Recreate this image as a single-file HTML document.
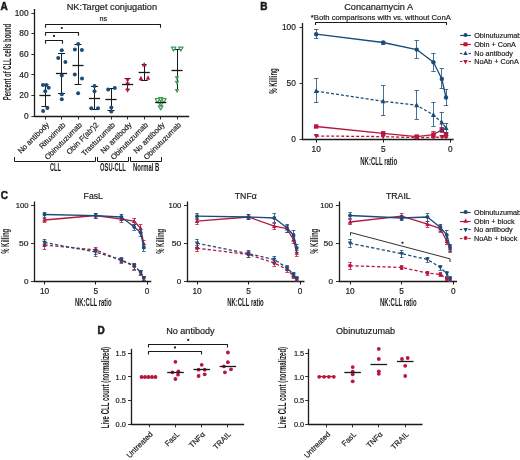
<!DOCTYPE html>
<html><head><meta charset="utf-8"><style>
html,body{margin:0;padding:0;background:#fff;width:520px;height:460px;overflow:hidden;}
svg{display:block;font-family:"Liberation Sans",sans-serif;filter:blur(0.3px);}
</style></head><body>
<svg width="520" height="460" viewBox="0 0 520 460">
<rect width="520" height="460" fill="#fff"/>
<text x="0.60" y="10.00" font-family="Liberation Sans" font-size="10" font-weight="bold" text-anchor="start" fill="#1a1a1a" stroke="#1a1a1a" stroke-width="0.5">A</text>
<text x="66.70" y="10.00" font-family="Liberation Sans" font-size="9.2" font-weight="normal" text-anchor="start" fill="#1a1a1a" stroke="#1a1a1a" stroke-width="0.18">NK:Target conjugation</text>
<line x1="34.50" y1="9.00" x2="34.50" y2="116.80" stroke="#1a1a1a" stroke-width="1.3"/>
<line x1="34.10" y1="116.50" x2="189.20" y2="116.50" stroke="#1a1a1a" stroke-width="1.3"/>
<line x1="31.40" y1="116.50" x2="34.60" y2="116.50" stroke="#1a1a1a" stroke-width="0.9"/>
<text x="28.60" y="119.00" font-family="Liberation Sans" font-size="8.3" font-weight="normal" text-anchor="end" fill="#1a1a1a" stroke="#1a1a1a" stroke-width="0.18">0</text>
<line x1="31.40" y1="95.50" x2="34.60" y2="95.50" stroke="#1a1a1a" stroke-width="0.9"/>
<text x="28.60" y="98.22" font-family="Liberation Sans" font-size="8.3" font-weight="normal" text-anchor="end" fill="#1a1a1a" stroke="#1a1a1a" stroke-width="0.18">20</text>
<line x1="31.40" y1="74.50" x2="34.60" y2="74.50" stroke="#1a1a1a" stroke-width="0.9"/>
<text x="28.60" y="77.64" font-family="Liberation Sans" font-size="8.3" font-weight="normal" text-anchor="end" fill="#1a1a1a" stroke="#1a1a1a" stroke-width="0.18">40</text>
<line x1="31.40" y1="54.50" x2="34.60" y2="54.50" stroke="#1a1a1a" stroke-width="0.9"/>
<text x="28.60" y="57.06" font-family="Liberation Sans" font-size="8.3" font-weight="normal" text-anchor="end" fill="#1a1a1a" stroke="#1a1a1a" stroke-width="0.18">60</text>
<line x1="31.40" y1="33.50" x2="34.60" y2="33.50" stroke="#1a1a1a" stroke-width="0.9"/>
<text x="28.60" y="36.48" font-family="Liberation Sans" font-size="8.3" font-weight="normal" text-anchor="end" fill="#1a1a1a" stroke="#1a1a1a" stroke-width="0.18">80</text>
<line x1="31.40" y1="13.50" x2="34.60" y2="13.50" stroke="#1a1a1a" stroke-width="0.9"/>
<text x="28.60" y="15.90" font-family="Liberation Sans" font-size="8.3" font-weight="normal" text-anchor="end" fill="#1a1a1a" stroke="#1a1a1a" stroke-width="0.18">100</text>
<text x="10.60" y="62.10" font-family="Liberation Sans" font-size="10.0" font-weight="bold" text-anchor="middle" fill="#1a1a1a" transform="rotate(-90 10.60 62.10)" textLength="76.3" lengthAdjust="spacingAndGlyphs">Percent of CLL cells bound</text>
<line x1="45.50" y1="116.30" x2="45.50" y2="119.50" stroke="#1a1a1a" stroke-width="0.9"/>
<line x1="61.50" y1="116.30" x2="61.50" y2="119.50" stroke="#1a1a1a" stroke-width="0.9"/>
<line x1="78.50" y1="116.30" x2="78.50" y2="119.50" stroke="#1a1a1a" stroke-width="0.9"/>
<line x1="94.50" y1="116.30" x2="94.50" y2="119.50" stroke="#1a1a1a" stroke-width="0.9"/>
<line x1="111.50" y1="116.30" x2="111.50" y2="119.50" stroke="#1a1a1a" stroke-width="0.9"/>
<line x1="127.50" y1="116.30" x2="127.50" y2="119.50" stroke="#1a1a1a" stroke-width="0.9"/>
<line x1="144.50" y1="116.30" x2="144.50" y2="119.50" stroke="#1a1a1a" stroke-width="0.9"/>
<line x1="160.50" y1="116.30" x2="160.50" y2="119.50" stroke="#1a1a1a" stroke-width="0.9"/>
<line x1="177.50" y1="116.30" x2="177.50" y2="119.50" stroke="#1a1a1a" stroke-width="0.9"/>
<text x="49.60" y="125.40" font-family="Liberation Sans" font-size="7.6" font-weight="normal" text-anchor="end" fill="#1a1a1a" stroke="#1a1a1a" stroke-width="0.18" transform="rotate(-45 49.60 125.40)">No antibody</text>
<text x="66.10" y="125.40" font-family="Liberation Sans" font-size="7.6" font-weight="normal" text-anchor="end" fill="#1a1a1a" stroke="#1a1a1a" stroke-width="0.18" transform="rotate(-45 66.10 125.40)">Rituximab</text>
<text x="82.60" y="125.40" font-family="Liberation Sans" font-size="7.6" font-weight="normal" text-anchor="end" fill="#1a1a1a" stroke="#1a1a1a" stroke-width="0.18" transform="rotate(-45 82.60 125.40)">Obinutuzumab</text>
<text x="99.10" y="125.40" font-family="Liberation Sans" font-size="7.6" font-weight="normal" text-anchor="end" fill="#1a1a1a" stroke="#1a1a1a" stroke-width="0.18" transform="rotate(-45 99.10 125.40)">Obin F(ab′)2</text>
<text x="115.60" y="125.40" font-family="Liberation Sans" font-size="7.6" font-weight="normal" text-anchor="end" fill="#1a1a1a" stroke="#1a1a1a" stroke-width="0.18" transform="rotate(-45 115.60 125.40)">Trastuzumab</text>
<text x="132.10" y="125.40" font-family="Liberation Sans" font-size="7.6" font-weight="normal" text-anchor="end" fill="#1a1a1a" stroke="#1a1a1a" stroke-width="0.18" transform="rotate(-45 132.10 125.40)">No antibody</text>
<text x="148.60" y="125.40" font-family="Liberation Sans" font-size="7.6" font-weight="normal" text-anchor="end" fill="#1a1a1a" stroke="#1a1a1a" stroke-width="0.18" transform="rotate(-45 148.60 125.40)">Obinutuzumab</text>
<text x="165.10" y="125.40" font-family="Liberation Sans" font-size="7.6" font-weight="normal" text-anchor="end" fill="#1a1a1a" stroke="#1a1a1a" stroke-width="0.18" transform="rotate(-45 165.10 125.40)">No antibody</text>
<text x="181.60" y="125.40" font-family="Liberation Sans" font-size="7.6" font-weight="normal" text-anchor="end" fill="#1a1a1a" stroke="#1a1a1a" stroke-width="0.18" transform="rotate(-45 181.60 125.40)">Obinutuzumab</text>
<polyline points="14.50,157.00 14.50,161.50 95.50,161.50 95.50,157.00" fill="none" stroke="#1a1a1a" stroke-width="1.0" stroke-linejoin="round"/>
<polyline points="97.50,157.00 97.50,161.50 128.50,161.50 128.50,157.00" fill="none" stroke="#1a1a1a" stroke-width="1.0" stroke-linejoin="round"/>
<polyline points="130.50,157.00 130.50,161.50 161.50,161.50 161.50,157.00" fill="none" stroke="#1a1a1a" stroke-width="1.0" stroke-linejoin="round"/>
<text x="55.40" y="170.50" font-family="Liberation Sans" font-size="10.0" font-weight="bold" text-anchor="middle" fill="#1a1a1a" textLength="10.8" lengthAdjust="spacingAndGlyphs">CLL</text>
<text x="112.90" y="170.50" font-family="Liberation Sans" font-size="10.0" font-weight="bold" text-anchor="middle" fill="#1a1a1a" textLength="25.6" lengthAdjust="spacingAndGlyphs">OSU-CLL</text>
<text x="146.20" y="170.50" font-family="Liberation Sans" font-size="10.0" font-weight="bold" text-anchor="middle" fill="#1a1a1a" textLength="26.3" lengthAdjust="spacingAndGlyphs">Normal B</text>
<polyline points="45.50,27.80 45.50,24.50 160.50,24.50 160.50,27.80" fill="none" stroke="#1a1a1a" stroke-width="1.1" stroke-linejoin="round"/>
<polyline points="45.50,35.80 45.50,32.50 78.50,32.50 78.50,35.80" fill="none" stroke="#1a1a1a" stroke-width="1.1" stroke-linejoin="round"/>
<polyline points="45.50,43.80 45.50,40.50 62.50,40.50 62.50,43.80" fill="none" stroke="#1a1a1a" stroke-width="1.1" stroke-linejoin="round"/>
<circle cx="54.00" cy="35.90" r="1.1" fill="#1a1a1a"/>
<circle cx="61.80" cy="28.00" r="1.1" fill="#1a1a1a"/>
<text x="103.20" y="21.20" font-family="Liberation Sans" font-size="7.2" font-weight="normal" text-anchor="middle" fill="#1a1a1a" stroke="#1a1a1a" stroke-width="0.18">ns</text>
<line x1="45.50" y1="84.00" x2="45.50" y2="106.30" stroke="#1a1a1a" stroke-width="1.0"/>
<line x1="41.50" y1="84.50" x2="48.50" y2="84.50" stroke="#1a1a1a" stroke-width="1.0"/>
<line x1="41.50" y1="106.50" x2="48.50" y2="106.50" stroke="#1a1a1a" stroke-width="1.0"/>
<circle cx="43.00" cy="85.00" r="2.0" fill="#1b4b78"/>
<circle cx="46.30" cy="85.00" r="2.0" fill="#1b4b78"/>
<circle cx="48.70" cy="87.80" r="2.0" fill="#1b4b78"/>
<circle cx="45.20" cy="91.30" r="2.0" fill="#1b4b78"/>
<circle cx="47.40" cy="108.00" r="2.0" fill="#1b4b78"/>
<circle cx="43.10" cy="111.00" r="2.0" fill="#1b4b78"/>
<line x1="39.40" y1="95.50" x2="50.60" y2="95.50" stroke="#1a1a1a" stroke-width="1.3"/>
<line x1="61.50" y1="53.50" x2="61.50" y2="93.70" stroke="#1a1a1a" stroke-width="1.0"/>
<line x1="58.00" y1="53.50" x2="65.00" y2="53.50" stroke="#1a1a1a" stroke-width="1.0"/>
<line x1="58.00" y1="93.50" x2="65.00" y2="93.50" stroke="#1a1a1a" stroke-width="1.0"/>
<circle cx="61.80" cy="50.20" r="2.0" fill="#1b4b78"/>
<circle cx="58.20" cy="58.00" r="2.0" fill="#1b4b78"/>
<circle cx="65.40" cy="61.90" r="2.0" fill="#1b4b78"/>
<circle cx="61.80" cy="75.40" r="2.0" fill="#1b4b78"/>
<circle cx="61.80" cy="94.20" r="2.0" fill="#1b4b78"/>
<circle cx="61.80" cy="99.20" r="2.0" fill="#1b4b78"/>
<line x1="55.90" y1="73.50" x2="67.10" y2="73.50" stroke="#1a1a1a" stroke-width="1.3"/>
<line x1="78.50" y1="44.40" x2="78.50" y2="84.50" stroke="#1a1a1a" stroke-width="1.0"/>
<line x1="74.50" y1="44.50" x2="81.50" y2="44.50" stroke="#1a1a1a" stroke-width="1.0"/>
<line x1="74.50" y1="84.50" x2="81.50" y2="84.50" stroke="#1a1a1a" stroke-width="1.0"/>
<circle cx="78.20" cy="44.10" r="2.0" fill="#1b4b78"/>
<circle cx="74.90" cy="49.60" r="2.0" fill="#1b4b78"/>
<circle cx="81.90" cy="49.90" r="2.0" fill="#1b4b78"/>
<circle cx="74.80" cy="74.40" r="2.0" fill="#1b4b78"/>
<circle cx="82.00" cy="78.50" r="2.0" fill="#1b4b78"/>
<circle cx="78.10" cy="93.30" r="2.0" fill="#1b4b78"/>
<line x1="72.40" y1="65.50" x2="83.60" y2="65.50" stroke="#1a1a1a" stroke-width="1.3"/>
<line x1="94.50" y1="86.00" x2="94.50" y2="109.30" stroke="#1a1a1a" stroke-width="1.0"/>
<line x1="91.00" y1="86.50" x2="98.00" y2="86.50" stroke="#1a1a1a" stroke-width="1.0"/>
<line x1="91.00" y1="109.50" x2="98.00" y2="109.50" stroke="#1a1a1a" stroke-width="1.0"/>
<circle cx="94.50" cy="86.10" r="2.0" fill="#1b4b78"/>
<circle cx="94.50" cy="91.30" r="2.0" fill="#1b4b78"/>
<circle cx="91.30" cy="108.30" r="2.0" fill="#1b4b78"/>
<circle cx="98.00" cy="108.30" r="2.0" fill="#1b4b78"/>
<line x1="88.90" y1="98.50" x2="100.10" y2="98.50" stroke="#1a1a1a" stroke-width="1.3"/>
<line x1="111.50" y1="88.00" x2="111.50" y2="110.00" stroke="#1a1a1a" stroke-width="1.0"/>
<line x1="107.50" y1="88.50" x2="114.50" y2="88.50" stroke="#1a1a1a" stroke-width="1.0"/>
<line x1="107.50" y1="110.50" x2="114.50" y2="110.50" stroke="#1a1a1a" stroke-width="1.0"/>
<circle cx="108.20" cy="89.40" r="2.0" fill="#1b4b78"/>
<circle cx="114.80" cy="88.00" r="2.0" fill="#1b4b78"/>
<circle cx="111.30" cy="107.60" r="2.0" fill="#1b4b78"/>
<circle cx="111.30" cy="111.60" r="2.0" fill="#1b4b78"/>
<line x1="105.40" y1="99.50" x2="116.60" y2="99.50" stroke="#1a1a1a" stroke-width="1.3"/>
<line x1="127.50" y1="78.60" x2="127.50" y2="89.20" stroke="#1a1a1a" stroke-width="1.0"/>
<line x1="124.60" y1="78.50" x2="130.60" y2="78.50" stroke="#1a1a1a" stroke-width="1.0"/>
<line x1="125.60" y1="89.50" x2="129.60" y2="89.50" stroke="#1a1a1a" stroke-width="1.0"/>
<polygon points="127.60,82.63 125.30,78.26 129.90,78.26" fill="#b8163f"/>
<polygon points="127.60,86.93 125.30,82.56 129.90,82.56" fill="#b8163f"/>
<polygon points="127.60,92.83 125.30,88.46 129.90,88.46" fill="#b8163f"/>
<line x1="122.00" y1="84.50" x2="133.20" y2="84.50" stroke="#1a1a1a" stroke-width="1.3"/>
<line x1="144.50" y1="64.60" x2="144.50" y2="80.20" stroke="#1a1a1a" stroke-width="1.0"/>
<line x1="141.70" y1="64.50" x2="146.70" y2="64.50" stroke="#1a1a1a" stroke-width="1.0"/>
<line x1="140.70" y1="80.50" x2="147.70" y2="80.50" stroke="#1a1a1a" stroke-width="1.0"/>
<polygon points="144.20,62.07 141.90,66.44 146.50,66.44" fill="#b8163f"/>
<polygon points="140.90,75.87 138.60,80.24 143.20,80.24" fill="#b8163f"/>
<polygon points="148.00,75.27 145.70,79.64 150.30,79.64" fill="#b8163f"/>
<line x1="138.60" y1="72.50" x2="149.80" y2="72.50" stroke="#1a1a1a" stroke-width="1.3"/>
<line x1="160.50" y1="100.50" x2="160.50" y2="104.50" stroke="#1a1a1a" stroke-width="1.0"/>
<polygon points="160.70,101.70 158.40,97.68 163.00,97.68" fill="#ffffff" fill-opacity="0.3" stroke="#3f9f58" stroke-width="1.2" stroke-linejoin="round"/>
<polygon points="157.60,102.70 155.30,98.68 159.90,98.68" fill="#ffffff" fill-opacity="0.3" stroke="#3f9f58" stroke-width="1.2" stroke-linejoin="round"/>
<polygon points="163.80,102.70 161.50,98.68 166.10,98.68" fill="#ffffff" fill-opacity="0.3" stroke="#3f9f58" stroke-width="1.2" stroke-linejoin="round"/>
<polygon points="160.70,106.50 158.40,102.48 163.00,102.48" fill="#ffffff" fill-opacity="0.3" stroke="#3f9f58" stroke-width="1.2" stroke-linejoin="round"/>
<polygon points="160.70,109.90 158.40,105.88 163.00,105.88" fill="#ffffff" fill-opacity="0.3" stroke="#3f9f58" stroke-width="1.2" stroke-linejoin="round"/>
<line x1="155.10" y1="102.50" x2="166.30" y2="102.50" stroke="#1a1a1a" stroke-width="1.3"/>
<line x1="177.50" y1="49.60" x2="177.50" y2="90.00" stroke="#1a1a1a" stroke-width="1.0"/>
<line x1="173.20" y1="49.50" x2="180.80" y2="49.50" stroke="#1a1a1a" stroke-width="1.0"/>
<polygon points="173.60,51.10 171.30,47.07 175.90,47.07" fill="#ffffff" fill-opacity="0.3" stroke="#3f9f58" stroke-width="1.2" stroke-linejoin="round"/>
<polygon points="180.80,51.10 178.50,47.07 183.10,47.07" fill="#ffffff" fill-opacity="0.3" stroke="#3f9f58" stroke-width="1.2" stroke-linejoin="round"/>
<polygon points="177.00,80.53 174.70,76.16 179.30,76.16" fill="#3f9f58"/>
<polygon points="177.00,85.13 174.70,80.76 179.30,80.76" fill="#3f9f58"/>
<polygon points="177.00,93.33 174.70,88.96 179.30,88.96" fill="#3f9f58"/>
<line x1="171.40" y1="70.50" x2="182.60" y2="70.50" stroke="#1a1a1a" stroke-width="1.3"/>
<text x="260.20" y="10.00" font-family="Liberation Sans" font-size="10" font-weight="bold" text-anchor="start" fill="#1a1a1a" stroke="#1a1a1a" stroke-width="0.5">B</text>
<text x="344.20" y="10.00" font-family="Liberation Sans" font-size="9.2" font-weight="normal" text-anchor="start" fill="#1a1a1a" stroke="#1a1a1a" stroke-width="0.18">Concanamycin A</text>
<text x="310.80" y="20.20" font-family="Liberation Sans" font-size="7.6" font-weight="normal" text-anchor="start" fill="#1a1a1a" stroke="#1a1a1a" stroke-width="0.18" textLength="140" lengthAdjust="spacingAndGlyphs">*Both comparisons with vs. without ConA</text>
<polyline points="315.50,25.10 315.50,22.50 446.50,22.50 446.50,25.10" fill="none" stroke="#1a1a1a" stroke-width="1.1" stroke-linejoin="round"/>
<line x1="302.50" y1="23.00" x2="302.50" y2="140.10" stroke="#1a1a1a" stroke-width="1.3"/>
<line x1="302.20" y1="139.50" x2="453.60" y2="139.50" stroke="#1a1a1a" stroke-width="1.3"/>
<line x1="299.50" y1="139.50" x2="302.70" y2="139.50" stroke="#1a1a1a" stroke-width="0.9"/>
<text x="295.80" y="142.30" font-family="Liberation Sans" font-size="8.3" font-weight="normal" text-anchor="end" fill="#1a1a1a" stroke="#1a1a1a" stroke-width="0.18">0</text>
<line x1="299.50" y1="83.50" x2="302.70" y2="83.50" stroke="#1a1a1a" stroke-width="0.9"/>
<text x="295.80" y="86.10" font-family="Liberation Sans" font-size="8.3" font-weight="normal" text-anchor="end" fill="#1a1a1a" stroke="#1a1a1a" stroke-width="0.18">50</text>
<line x1="299.50" y1="27.50" x2="302.70" y2="27.50" stroke="#1a1a1a" stroke-width="0.9"/>
<text x="295.80" y="29.90" font-family="Liberation Sans" font-size="8.3" font-weight="normal" text-anchor="end" fill="#1a1a1a" stroke="#1a1a1a" stroke-width="0.18">100</text>
<line x1="316.50" y1="139.60" x2="316.50" y2="142.60" stroke="#1a1a1a" stroke-width="1.0"/>
<text x="316.20" y="151.70" font-family="Liberation Sans" font-size="8.3" font-weight="normal" text-anchor="middle" fill="#1a1a1a" stroke="#1a1a1a" stroke-width="0.18">10</text>
<line x1="383.50" y1="139.60" x2="383.50" y2="142.60" stroke="#1a1a1a" stroke-width="1.0"/>
<text x="383.20" y="151.70" font-family="Liberation Sans" font-size="8.3" font-weight="normal" text-anchor="middle" fill="#1a1a1a" stroke="#1a1a1a" stroke-width="0.18">5</text>
<line x1="450.50" y1="139.60" x2="450.50" y2="142.60" stroke="#1a1a1a" stroke-width="1.0"/>
<text x="450.20" y="151.70" font-family="Liberation Sans" font-size="8.3" font-weight="normal" text-anchor="middle" fill="#1a1a1a" stroke="#1a1a1a" stroke-width="0.18">0</text>
<text x="378.70" y="164.70" font-family="Liberation Sans" font-size="10.0" font-weight="bold" text-anchor="middle" fill="#1a1a1a" textLength="36.8" lengthAdjust="spacingAndGlyphs">NK:CLL ratio</text>
<text x="277.30" y="81.00" font-family="Liberation Sans" font-size="10.0" font-weight="bold" text-anchor="middle" fill="#1a1a1a" transform="rotate(-90 277.30 81.00)" textLength="25.6" lengthAdjust="spacingAndGlyphs">% Killing</text>
<polyline points="316.20,136.00 383.20,136.60 416.70,137.60 433.45,137.40 441.82,137.00 446.01,137.00" fill="none" stroke="#b8163f" stroke-width="1.3" stroke-linejoin="round" stroke-dasharray="3,2"/>
<polygon points="316.20,138.78 313.67,133.98 318.73,133.98" fill="#b8163f"/>
<polygon points="383.20,139.38 380.67,134.58 385.73,134.58" fill="#b8163f"/>
<polygon points="416.70,140.38 414.17,135.58 419.23,135.58" fill="#b8163f"/>
<polygon points="433.45,140.18 430.92,135.38 435.98,135.38" fill="#b8163f"/>
<polygon points="441.82,139.78 439.30,134.98 444.35,134.98" fill="#b8163f"/>
<polygon points="446.01,139.78 443.48,134.98 448.54,134.98" fill="#b8163f"/>
<line x1="416.50" y1="135.00" x2="416.50" y2="138.50" stroke="#b8163f" stroke-width="0.8"/>
<line x1="414.50" y1="135.50" x2="418.90" y2="135.50" stroke="#b8163f" stroke-width="0.8"/>
<line x1="414.50" y1="138.50" x2="418.90" y2="138.50" stroke="#b8163f" stroke-width="0.8"/>
<line x1="433.50" y1="131.20" x2="433.50" y2="137.50" stroke="#b8163f" stroke-width="0.8"/>
<line x1="431.25" y1="131.50" x2="435.65" y2="131.50" stroke="#b8163f" stroke-width="0.8"/>
<line x1="431.25" y1="137.50" x2="435.65" y2="137.50" stroke="#b8163f" stroke-width="0.8"/>
<line x1="441.50" y1="127.00" x2="441.50" y2="132.00" stroke="#b8163f" stroke-width="0.8"/>
<line x1="439.62" y1="127.50" x2="444.02" y2="127.50" stroke="#b8163f" stroke-width="0.8"/>
<line x1="439.62" y1="132.50" x2="444.02" y2="132.50" stroke="#b8163f" stroke-width="0.8"/>
<line x1="446.50" y1="132.00" x2="446.50" y2="137.00" stroke="#b8163f" stroke-width="0.8"/>
<line x1="443.81" y1="132.50" x2="448.21" y2="132.50" stroke="#b8163f" stroke-width="0.8"/>
<line x1="443.81" y1="137.50" x2="448.21" y2="137.50" stroke="#b8163f" stroke-width="0.8"/>
<polyline points="316.20,126.50 383.20,133.30 416.70,136.60 433.45,134.60 441.82,129.80 446.01,134.40" fill="none" stroke="#b8163f" stroke-width="1.3" stroke-linejoin="round"/>
<rect x="314.00" y="124.30" width="4.40" height="4.40" fill="#b8163f"/>
<rect x="381.00" y="131.10" width="4.40" height="4.40" fill="#b8163f"/>
<rect x="414.50" y="134.40" width="4.40" height="4.40" fill="#b8163f"/>
<rect x="431.25" y="132.40" width="4.40" height="4.40" fill="#b8163f"/>
<rect x="439.62" y="127.60" width="4.40" height="4.40" fill="#b8163f"/>
<rect x="443.81" y="132.20" width="4.40" height="4.40" fill="#b8163f"/>
<line x1="316.50" y1="78.70" x2="316.50" y2="102.60" stroke="#1b4b78" stroke-width="0.8"/>
<line x1="314.00" y1="78.50" x2="318.40" y2="78.50" stroke="#1b4b78" stroke-width="0.8"/>
<line x1="314.00" y1="102.50" x2="318.40" y2="102.50" stroke="#1b4b78" stroke-width="0.8"/>
<line x1="383.50" y1="85.50" x2="383.50" y2="115.40" stroke="#1b4b78" stroke-width="0.8"/>
<line x1="381.00" y1="85.50" x2="385.40" y2="85.50" stroke="#1b4b78" stroke-width="0.8"/>
<line x1="381.00" y1="115.50" x2="385.40" y2="115.50" stroke="#1b4b78" stroke-width="0.8"/>
<line x1="416.50" y1="90.30" x2="416.50" y2="119.00" stroke="#1b4b78" stroke-width="0.8"/>
<line x1="414.50" y1="90.50" x2="418.90" y2="90.50" stroke="#1b4b78" stroke-width="0.8"/>
<line x1="414.50" y1="119.50" x2="418.90" y2="119.50" stroke="#1b4b78" stroke-width="0.8"/>
<line x1="433.50" y1="102.30" x2="433.50" y2="126.00" stroke="#1b4b78" stroke-width="0.8"/>
<line x1="431.25" y1="102.50" x2="435.65" y2="102.50" stroke="#1b4b78" stroke-width="0.8"/>
<line x1="431.25" y1="126.50" x2="435.65" y2="126.50" stroke="#1b4b78" stroke-width="0.8"/>
<line x1="441.50" y1="112.70" x2="441.50" y2="131.50" stroke="#1b4b78" stroke-width="0.8"/>
<line x1="439.62" y1="112.50" x2="444.02" y2="112.50" stroke="#1b4b78" stroke-width="0.8"/>
<line x1="439.62" y1="131.50" x2="444.02" y2="131.50" stroke="#1b4b78" stroke-width="0.8"/>
<line x1="446.50" y1="123.50" x2="446.50" y2="132.00" stroke="#1b4b78" stroke-width="0.8"/>
<line x1="443.81" y1="123.50" x2="448.21" y2="123.50" stroke="#1b4b78" stroke-width="0.8"/>
<line x1="443.81" y1="132.50" x2="448.21" y2="132.50" stroke="#1b4b78" stroke-width="0.8"/>
<polyline points="316.20,91.10 383.20,101.30 416.70,105.20 433.45,114.90 441.82,122.60 446.01,128.00" fill="none" stroke="#1b4b78" stroke-width="1.3" stroke-linejoin="round" stroke-dasharray="3,2"/>
<polygon points="316.20,88.32 313.67,93.12 318.73,93.12" fill="#1b4b78"/>
<polygon points="383.20,98.52 380.67,103.32 385.73,103.32" fill="#1b4b78"/>
<polygon points="416.70,102.42 414.17,107.22 419.23,107.22" fill="#1b4b78"/>
<polygon points="433.45,112.12 430.92,116.92 435.98,116.92" fill="#1b4b78"/>
<polygon points="441.82,119.82 439.30,124.62 444.35,124.62" fill="#1b4b78"/>
<polygon points="446.01,125.22 443.48,130.02 448.54,130.02" fill="#1b4b78"/>
<line x1="316.50" y1="29.80" x2="316.50" y2="38.00" stroke="#1b4b78" stroke-width="0.8"/>
<line x1="314.00" y1="29.50" x2="318.40" y2="29.50" stroke="#1b4b78" stroke-width="0.8"/>
<line x1="314.00" y1="38.50" x2="318.40" y2="38.50" stroke="#1b4b78" stroke-width="0.8"/>
<line x1="383.50" y1="41.00" x2="383.50" y2="44.00" stroke="#1b4b78" stroke-width="0.8"/>
<line x1="381.00" y1="41.50" x2="385.40" y2="41.50" stroke="#1b4b78" stroke-width="0.8"/>
<line x1="381.00" y1="44.50" x2="385.40" y2="44.50" stroke="#1b4b78" stroke-width="0.8"/>
<line x1="416.50" y1="40.80" x2="416.50" y2="58.20" stroke="#1b4b78" stroke-width="0.8"/>
<line x1="414.50" y1="40.50" x2="418.90" y2="40.50" stroke="#1b4b78" stroke-width="0.8"/>
<line x1="414.50" y1="58.50" x2="418.90" y2="58.50" stroke="#1b4b78" stroke-width="0.8"/>
<line x1="433.50" y1="53.40" x2="433.50" y2="71.10" stroke="#1b4b78" stroke-width="0.8"/>
<line x1="431.25" y1="53.50" x2="435.65" y2="53.50" stroke="#1b4b78" stroke-width="0.8"/>
<line x1="431.25" y1="71.50" x2="435.65" y2="71.50" stroke="#1b4b78" stroke-width="0.8"/>
<line x1="441.50" y1="68.80" x2="441.50" y2="88.60" stroke="#1b4b78" stroke-width="0.8"/>
<line x1="439.62" y1="68.50" x2="444.02" y2="68.50" stroke="#1b4b78" stroke-width="0.8"/>
<line x1="439.62" y1="88.50" x2="444.02" y2="88.50" stroke="#1b4b78" stroke-width="0.8"/>
<line x1="446.50" y1="89.30" x2="446.50" y2="105.40" stroke="#1b4b78" stroke-width="0.8"/>
<line x1="443.81" y1="89.50" x2="448.21" y2="89.50" stroke="#1b4b78" stroke-width="0.8"/>
<line x1="443.81" y1="105.50" x2="448.21" y2="105.50" stroke="#1b4b78" stroke-width="0.8"/>
<polyline points="316.20,34.20 383.20,42.50 416.70,49.60 433.45,62.30 441.82,79.00 446.01,97.50" fill="none" stroke="#1b4b78" stroke-width="1.3" stroke-linejoin="round"/>
<circle cx="316.20" cy="34.20" r="2.2" fill="#1b4b78"/>
<circle cx="383.20" cy="42.50" r="2.2" fill="#1b4b78"/>
<circle cx="416.70" cy="49.60" r="2.2" fill="#1b4b78"/>
<circle cx="433.45" cy="62.30" r="2.2" fill="#1b4b78"/>
<circle cx="441.82" cy="79.00" r="2.2" fill="#1b4b78"/>
<circle cx="446.01" cy="97.50" r="2.2" fill="#1b4b78"/>
<line x1="460.10" y1="35.50" x2="470.90" y2="35.50" stroke="#1b4b78" stroke-width="1.2"/>
<circle cx="465.50" cy="35.10" r="2.0" fill="#1b4b78"/>
<text x="474.20" y="37.70" font-family="Liberation Sans" font-size="7.25" font-weight="normal" text-anchor="start" fill="#1a1a1a" stroke="#1a1a1a" stroke-width="0.18">Obinutuzumab</text>
<line x1="460.10" y1="44.50" x2="470.90" y2="44.50" stroke="#b8163f" stroke-width="1.2"/>
<rect x="463.50" y="42.30" width="4.00" height="4.00" fill="#b8163f"/>
<text x="474.20" y="46.90" font-family="Liberation Sans" font-size="7.25" font-weight="normal" text-anchor="start" fill="#1a1a1a" stroke="#1a1a1a" stroke-width="0.18">Obin + ConA</text>
<line x1="460.10" y1="53.50" x2="462.40" y2="53.50" stroke="#1b4b78" stroke-width="1.2"/>
<line x1="468.60" y1="53.50" x2="470.90" y2="53.50" stroke="#1b4b78" stroke-width="1.2"/>
<polygon points="465.50,50.67 463.20,55.04 467.80,55.04" fill="#1b4b78"/>
<text x="474.20" y="55.80" font-family="Liberation Sans" font-size="7.25" font-weight="normal" text-anchor="start" fill="#1a1a1a" stroke="#1a1a1a" stroke-width="0.18">No antibody</text>
<line x1="460.10" y1="61.50" x2="462.40" y2="61.50" stroke="#b8163f" stroke-width="1.2"/>
<line x1="468.60" y1="61.50" x2="470.90" y2="61.50" stroke="#b8163f" stroke-width="1.2"/>
<polygon points="465.50,64.33 463.20,59.96 467.80,59.96" fill="#b8163f"/>
<text x="474.20" y="64.40" font-family="Liberation Sans" font-size="7.25" font-weight="normal" text-anchor="start" fill="#1a1a1a" stroke="#1a1a1a" stroke-width="0.18">NoAb + ConA</text>
<text x="0.80" y="198.80" font-family="Liberation Sans" font-size="10" font-weight="bold" text-anchor="start" fill="#1a1a1a" stroke="#1a1a1a" stroke-width="0.5">C</text>
<line x1="34.50" y1="201.50" x2="34.50" y2="282.00" stroke="#1a1a1a" stroke-width="1.3"/>
<line x1="33.70" y1="281.50" x2="151.30" y2="281.50" stroke="#1a1a1a" stroke-width="1.3"/>
<line x1="31.00" y1="281.50" x2="34.20" y2="281.50" stroke="#1a1a1a" stroke-width="0.9"/>
<text x="28.50" y="284.00" font-family="Liberation Sans" font-size="7.2" font-weight="normal" text-anchor="end" fill="#1a1a1a" stroke="#1a1a1a" stroke-width="0.18" textLength="4.5" lengthAdjust="spacingAndGlyphs">0</text>
<line x1="31.00" y1="243.50" x2="34.20" y2="243.50" stroke="#1a1a1a" stroke-width="0.9"/>
<text x="28.50" y="245.90" font-family="Liberation Sans" font-size="7.2" font-weight="normal" text-anchor="end" fill="#1a1a1a" stroke="#1a1a1a" stroke-width="0.18" textLength="9.5" lengthAdjust="spacingAndGlyphs">50</text>
<line x1="31.00" y1="205.50" x2="34.20" y2="205.50" stroke="#1a1a1a" stroke-width="0.9"/>
<text x="28.50" y="207.80" font-family="Liberation Sans" font-size="7.2" font-weight="normal" text-anchor="end" fill="#1a1a1a" stroke="#1a1a1a" stroke-width="0.18" textLength="12.8" lengthAdjust="spacingAndGlyphs">100</text>
<line x1="44.50" y1="281.50" x2="44.50" y2="284.50" stroke="#1a1a1a" stroke-width="1.0"/>
<text x="44.50" y="293.50" font-family="Liberation Sans" font-size="8.3" font-weight="normal" text-anchor="middle" fill="#1a1a1a" stroke="#1a1a1a" stroke-width="0.18">10</text>
<line x1="95.50" y1="281.50" x2="95.50" y2="284.50" stroke="#1a1a1a" stroke-width="1.0"/>
<text x="95.75" y="293.50" font-family="Liberation Sans" font-size="8.3" font-weight="normal" text-anchor="middle" fill="#1a1a1a" stroke="#1a1a1a" stroke-width="0.18">5</text>
<line x1="147.50" y1="281.50" x2="147.50" y2="284.50" stroke="#1a1a1a" stroke-width="1.0"/>
<text x="147.00" y="293.50" font-family="Liberation Sans" font-size="8.3" font-weight="normal" text-anchor="middle" fill="#1a1a1a" stroke="#1a1a1a" stroke-width="0.18">0</text>
<text x="83.60" y="198.80" font-family="Liberation Sans" font-size="8.7" font-weight="normal" text-anchor="start" fill="#1a1a1a" stroke="#1a1a1a" stroke-width="0.18">FasL</text>
<text x="93.30" y="305.80" font-family="Liberation Sans" font-size="10.0" font-weight="bold" text-anchor="middle" fill="#1a1a1a" textLength="36.5" lengthAdjust="spacingAndGlyphs">NK:CLL ratio</text>
<text x="8.70" y="241.30" font-family="Liberation Sans" font-size="10.0" font-weight="bold" text-anchor="middle" fill="#1a1a1a" transform="rotate(-90 8.70 241.30)" textLength="25" lengthAdjust="spacingAndGlyphs">% Killing</text>
<line x1="187.50" y1="201.50" x2="187.50" y2="282.00" stroke="#1a1a1a" stroke-width="1.3"/>
<line x1="186.70" y1="281.50" x2="304.50" y2="281.50" stroke="#1a1a1a" stroke-width="1.3"/>
<line x1="184.00" y1="281.50" x2="187.20" y2="281.50" stroke="#1a1a1a" stroke-width="0.9"/>
<text x="181.20" y="284.00" font-family="Liberation Sans" font-size="7.2" font-weight="normal" text-anchor="end" fill="#1a1a1a" stroke="#1a1a1a" stroke-width="0.18" textLength="4.5" lengthAdjust="spacingAndGlyphs">0</text>
<line x1="184.00" y1="243.50" x2="187.20" y2="243.50" stroke="#1a1a1a" stroke-width="0.9"/>
<text x="181.20" y="245.90" font-family="Liberation Sans" font-size="7.2" font-weight="normal" text-anchor="end" fill="#1a1a1a" stroke="#1a1a1a" stroke-width="0.18" textLength="9.5" lengthAdjust="spacingAndGlyphs">50</text>
<line x1="184.00" y1="205.50" x2="187.20" y2="205.50" stroke="#1a1a1a" stroke-width="0.9"/>
<text x="181.20" y="207.80" font-family="Liberation Sans" font-size="7.2" font-weight="normal" text-anchor="end" fill="#1a1a1a" stroke="#1a1a1a" stroke-width="0.18" textLength="12.8" lengthAdjust="spacingAndGlyphs">100</text>
<line x1="197.50" y1="281.50" x2="197.50" y2="284.50" stroke="#1a1a1a" stroke-width="1.0"/>
<text x="197.00" y="293.50" font-family="Liberation Sans" font-size="8.3" font-weight="normal" text-anchor="middle" fill="#1a1a1a" stroke="#1a1a1a" stroke-width="0.18">10</text>
<line x1="248.50" y1="281.50" x2="248.50" y2="284.50" stroke="#1a1a1a" stroke-width="1.0"/>
<text x="248.50" y="293.50" font-family="Liberation Sans" font-size="8.3" font-weight="normal" text-anchor="middle" fill="#1a1a1a" stroke="#1a1a1a" stroke-width="0.18">5</text>
<line x1="300.50" y1="281.50" x2="300.50" y2="284.50" stroke="#1a1a1a" stroke-width="1.0"/>
<text x="300.00" y="293.50" font-family="Liberation Sans" font-size="8.3" font-weight="normal" text-anchor="middle" fill="#1a1a1a" stroke="#1a1a1a" stroke-width="0.18">0</text>
<text x="234.80" y="198.80" font-family="Liberation Sans" font-size="8.7" font-weight="normal" text-anchor="start" fill="#1a1a1a" stroke="#1a1a1a" stroke-width="0.18">TNFα</text>
<text x="245.50" y="305.80" font-family="Liberation Sans" font-size="10.0" font-weight="bold" text-anchor="middle" fill="#1a1a1a" textLength="36.5" lengthAdjust="spacingAndGlyphs">NK:CLL ratio</text>
<text x="163.60" y="241.30" font-family="Liberation Sans" font-size="10.0" font-weight="bold" text-anchor="middle" fill="#1a1a1a" transform="rotate(-90 163.60 241.30)" textLength="25" lengthAdjust="spacingAndGlyphs">% Killing</text>
<line x1="339.50" y1="201.50" x2="339.50" y2="282.00" stroke="#1a1a1a" stroke-width="1.3"/>
<line x1="338.70" y1="281.50" x2="457.00" y2="281.50" stroke="#1a1a1a" stroke-width="1.3"/>
<line x1="336.00" y1="281.50" x2="339.20" y2="281.50" stroke="#1a1a1a" stroke-width="0.9"/>
<text x="333.00" y="284.00" font-family="Liberation Sans" font-size="7.2" font-weight="normal" text-anchor="end" fill="#1a1a1a" stroke="#1a1a1a" stroke-width="0.18" textLength="4.5" lengthAdjust="spacingAndGlyphs">0</text>
<line x1="336.00" y1="243.50" x2="339.20" y2="243.50" stroke="#1a1a1a" stroke-width="0.9"/>
<text x="333.00" y="245.90" font-family="Liberation Sans" font-size="7.2" font-weight="normal" text-anchor="end" fill="#1a1a1a" stroke="#1a1a1a" stroke-width="0.18" textLength="9.5" lengthAdjust="spacingAndGlyphs">50</text>
<line x1="336.00" y1="205.50" x2="339.20" y2="205.50" stroke="#1a1a1a" stroke-width="0.9"/>
<text x="333.00" y="207.80" font-family="Liberation Sans" font-size="7.2" font-weight="normal" text-anchor="end" fill="#1a1a1a" stroke="#1a1a1a" stroke-width="0.18" textLength="12.8" lengthAdjust="spacingAndGlyphs">100</text>
<line x1="350.50" y1="281.50" x2="350.50" y2="284.50" stroke="#1a1a1a" stroke-width="1.0"/>
<text x="350.00" y="293.50" font-family="Liberation Sans" font-size="8.3" font-weight="normal" text-anchor="middle" fill="#1a1a1a" stroke="#1a1a1a" stroke-width="0.18">10</text>
<line x1="401.50" y1="281.50" x2="401.50" y2="284.50" stroke="#1a1a1a" stroke-width="1.0"/>
<text x="401.65" y="293.50" font-family="Liberation Sans" font-size="8.3" font-weight="normal" text-anchor="middle" fill="#1a1a1a" stroke="#1a1a1a" stroke-width="0.18">5</text>
<line x1="453.50" y1="281.50" x2="453.50" y2="284.50" stroke="#1a1a1a" stroke-width="1.0"/>
<text x="453.30" y="293.50" font-family="Liberation Sans" font-size="8.3" font-weight="normal" text-anchor="middle" fill="#1a1a1a" stroke="#1a1a1a" stroke-width="0.18">0</text>
<text x="386.00" y="198.80" font-family="Liberation Sans" font-size="8.7" font-weight="normal" text-anchor="start" fill="#1a1a1a" stroke="#1a1a1a" stroke-width="0.18">TRAIL</text>
<text x="398.30" y="305.80" font-family="Liberation Sans" font-size="10.0" font-weight="bold" text-anchor="middle" fill="#1a1a1a" textLength="36.5" lengthAdjust="spacingAndGlyphs">NK:CLL ratio</text>
<text x="317.80" y="241.30" font-family="Liberation Sans" font-size="10.0" font-weight="bold" text-anchor="middle" fill="#1a1a1a" transform="rotate(-90 317.80 241.30)" textLength="25" lengthAdjust="spacingAndGlyphs">% Killing</text>
<line x1="44.50" y1="241.00" x2="44.50" y2="249.00" stroke="#b8163f" stroke-width="0.8"/>
<line x1="42.70" y1="241.50" x2="46.30" y2="241.50" stroke="#b8163f" stroke-width="0.8"/>
<line x1="42.70" y1="249.50" x2="46.30" y2="249.50" stroke="#b8163f" stroke-width="0.8"/>
<line x1="95.50" y1="247.00" x2="95.50" y2="254.00" stroke="#b8163f" stroke-width="0.8"/>
<line x1="93.95" y1="247.50" x2="97.55" y2="247.50" stroke="#b8163f" stroke-width="0.8"/>
<line x1="93.95" y1="254.50" x2="97.55" y2="254.50" stroke="#b8163f" stroke-width="0.8"/>
<line x1="121.50" y1="258.00" x2="121.50" y2="263.00" stroke="#b8163f" stroke-width="0.8"/>
<line x1="119.58" y1="258.50" x2="123.17" y2="258.50" stroke="#b8163f" stroke-width="0.8"/>
<line x1="119.58" y1="263.50" x2="123.17" y2="263.50" stroke="#b8163f" stroke-width="0.8"/>
<line x1="134.50" y1="263.00" x2="134.50" y2="270.00" stroke="#b8163f" stroke-width="0.8"/>
<line x1="132.39" y1="263.50" x2="135.99" y2="263.50" stroke="#b8163f" stroke-width="0.8"/>
<line x1="132.39" y1="270.50" x2="135.99" y2="270.50" stroke="#b8163f" stroke-width="0.8"/>
<line x1="140.50" y1="270.00" x2="140.50" y2="275.00" stroke="#b8163f" stroke-width="0.8"/>
<line x1="138.79" y1="270.50" x2="142.39" y2="270.50" stroke="#b8163f" stroke-width="0.8"/>
<line x1="138.79" y1="275.50" x2="142.39" y2="275.50" stroke="#b8163f" stroke-width="0.8"/>
<line x1="143.50" y1="276.00" x2="143.50" y2="280.00" stroke="#b8163f" stroke-width="0.8"/>
<line x1="142.00" y1="276.50" x2="145.60" y2="276.50" stroke="#b8163f" stroke-width="0.8"/>
<line x1="142.00" y1="280.50" x2="145.60" y2="280.50" stroke="#b8163f" stroke-width="0.8"/>
<polyline points="44.50,245.00 95.75,250.00 121.38,260.50 134.19,266.20 140.59,272.00 143.80,278.00" fill="none" stroke="#b8163f" stroke-width="1.3" stroke-linejoin="round" stroke-dasharray="3.2,2.2"/>
<circle cx="44.50" cy="245.00" r="1.9" fill="#b8163f"/>
<circle cx="95.75" cy="250.00" r="1.9" fill="#b8163f"/>
<circle cx="121.38" cy="260.50" r="1.9" fill="#b8163f"/>
<circle cx="134.19" cy="266.20" r="1.9" fill="#b8163f"/>
<circle cx="140.59" cy="272.00" r="1.9" fill="#b8163f"/>
<circle cx="143.80" cy="278.00" r="1.9" fill="#b8163f"/>
<line x1="44.50" y1="239.00" x2="44.50" y2="246.00" stroke="#1b4b78" stroke-width="0.8"/>
<line x1="42.70" y1="239.50" x2="46.30" y2="239.50" stroke="#1b4b78" stroke-width="0.8"/>
<line x1="42.70" y1="246.50" x2="46.30" y2="246.50" stroke="#1b4b78" stroke-width="0.8"/>
<line x1="95.50" y1="249.00" x2="95.50" y2="256.00" stroke="#1b4b78" stroke-width="0.8"/>
<line x1="93.95" y1="249.50" x2="97.55" y2="249.50" stroke="#1b4b78" stroke-width="0.8"/>
<line x1="93.95" y1="256.50" x2="97.55" y2="256.50" stroke="#1b4b78" stroke-width="0.8"/>
<line x1="121.50" y1="257.50" x2="121.50" y2="262.50" stroke="#1b4b78" stroke-width="0.8"/>
<line x1="119.58" y1="257.50" x2="123.17" y2="257.50" stroke="#1b4b78" stroke-width="0.8"/>
<line x1="119.58" y1="262.50" x2="123.17" y2="262.50" stroke="#1b4b78" stroke-width="0.8"/>
<line x1="134.50" y1="263.00" x2="134.50" y2="269.00" stroke="#1b4b78" stroke-width="0.8"/>
<line x1="132.39" y1="263.50" x2="135.99" y2="263.50" stroke="#1b4b78" stroke-width="0.8"/>
<line x1="132.39" y1="269.50" x2="135.99" y2="269.50" stroke="#1b4b78" stroke-width="0.8"/>
<line x1="140.50" y1="270.00" x2="140.50" y2="274.50" stroke="#1b4b78" stroke-width="0.8"/>
<line x1="138.79" y1="270.50" x2="142.39" y2="270.50" stroke="#1b4b78" stroke-width="0.8"/>
<line x1="138.79" y1="274.50" x2="142.39" y2="274.50" stroke="#1b4b78" stroke-width="0.8"/>
<line x1="143.50" y1="276.00" x2="143.50" y2="280.50" stroke="#1b4b78" stroke-width="0.8"/>
<line x1="142.00" y1="276.50" x2="145.60" y2="276.50" stroke="#1b4b78" stroke-width="0.8"/>
<line x1="142.00" y1="280.50" x2="145.60" y2="280.50" stroke="#1b4b78" stroke-width="0.8"/>
<polyline points="44.50,242.50 95.75,252.00 121.38,260.00 134.19,265.70 140.59,272.00 143.80,278.20" fill="none" stroke="#1b4b78" stroke-width="1.3" stroke-linejoin="round" stroke-dasharray="3.2,2.2"/>
<polygon points="44.50,244.90 42.31,240.75 46.69,240.75" fill="#1b4b78"/>
<polygon points="95.75,254.40 93.56,250.25 97.94,250.25" fill="#1b4b78"/>
<polygon points="121.38,262.40 119.19,258.25 123.56,258.25" fill="#1b4b78"/>
<polygon points="134.19,268.10 132.00,263.95 136.37,263.95" fill="#1b4b78"/>
<polygon points="140.59,274.40 138.41,270.25 142.78,270.25" fill="#1b4b78"/>
<polygon points="143.80,280.60 141.61,276.45 145.98,276.45" fill="#1b4b78"/>
<line x1="44.50" y1="218.00" x2="44.50" y2="222.00" stroke="#b8163f" stroke-width="0.8"/>
<line x1="42.70" y1="218.50" x2="46.30" y2="218.50" stroke="#b8163f" stroke-width="0.8"/>
<line x1="42.70" y1="222.50" x2="46.30" y2="222.50" stroke="#b8163f" stroke-width="0.8"/>
<line x1="95.50" y1="213.50" x2="95.50" y2="218.00" stroke="#b8163f" stroke-width="0.8"/>
<line x1="93.95" y1="213.50" x2="97.55" y2="213.50" stroke="#b8163f" stroke-width="0.8"/>
<line x1="93.95" y1="218.50" x2="97.55" y2="218.50" stroke="#b8163f" stroke-width="0.8"/>
<line x1="121.50" y1="216.50" x2="121.50" y2="222.00" stroke="#b8163f" stroke-width="0.8"/>
<line x1="119.58" y1="216.50" x2="123.17" y2="216.50" stroke="#b8163f" stroke-width="0.8"/>
<line x1="119.58" y1="222.50" x2="123.17" y2="222.50" stroke="#b8163f" stroke-width="0.8"/>
<line x1="134.50" y1="218.50" x2="134.50" y2="224.50" stroke="#b8163f" stroke-width="0.8"/>
<line x1="132.39" y1="218.50" x2="135.99" y2="218.50" stroke="#b8163f" stroke-width="0.8"/>
<line x1="132.39" y1="224.50" x2="135.99" y2="224.50" stroke="#b8163f" stroke-width="0.8"/>
<line x1="140.50" y1="224.50" x2="140.50" y2="232.00" stroke="#b8163f" stroke-width="0.8"/>
<line x1="138.79" y1="224.50" x2="142.39" y2="224.50" stroke="#b8163f" stroke-width="0.8"/>
<line x1="138.79" y1="232.50" x2="142.39" y2="232.50" stroke="#b8163f" stroke-width="0.8"/>
<line x1="143.50" y1="240.00" x2="143.50" y2="248.00" stroke="#b8163f" stroke-width="0.8"/>
<line x1="142.00" y1="240.50" x2="145.60" y2="240.50" stroke="#b8163f" stroke-width="0.8"/>
<line x1="142.00" y1="248.50" x2="145.60" y2="248.50" stroke="#b8163f" stroke-width="0.8"/>
<polyline points="44.50,220.00 95.75,215.50 121.38,219.20 134.19,221.20 140.59,228.20 143.80,243.70" fill="none" stroke="#b8163f" stroke-width="1.3" stroke-linejoin="round"/>
<polygon points="44.50,217.60 42.31,221.75 46.69,221.75" fill="#b8163f"/>
<polygon points="95.75,213.10 93.56,217.25 97.94,217.25" fill="#b8163f"/>
<polygon points="121.38,216.80 119.19,220.95 123.56,220.95" fill="#b8163f"/>
<polygon points="134.19,218.80 132.00,222.95 136.37,222.95" fill="#b8163f"/>
<polygon points="140.59,225.80 138.41,229.95 142.78,229.95" fill="#b8163f"/>
<polygon points="143.80,241.30 141.61,245.45 145.98,245.45" fill="#b8163f"/>
<line x1="44.50" y1="212.00" x2="44.50" y2="217.00" stroke="#1b4b78" stroke-width="0.8"/>
<line x1="42.70" y1="212.50" x2="46.30" y2="212.50" stroke="#1b4b78" stroke-width="0.8"/>
<line x1="42.70" y1="217.50" x2="46.30" y2="217.50" stroke="#1b4b78" stroke-width="0.8"/>
<line x1="95.50" y1="213.50" x2="95.50" y2="218.00" stroke="#1b4b78" stroke-width="0.8"/>
<line x1="93.95" y1="213.50" x2="97.55" y2="213.50" stroke="#1b4b78" stroke-width="0.8"/>
<line x1="93.95" y1="218.50" x2="97.55" y2="218.50" stroke="#1b4b78" stroke-width="0.8"/>
<line x1="121.50" y1="214.00" x2="121.50" y2="220.00" stroke="#1b4b78" stroke-width="0.8"/>
<line x1="119.58" y1="214.50" x2="123.17" y2="214.50" stroke="#1b4b78" stroke-width="0.8"/>
<line x1="119.58" y1="220.50" x2="123.17" y2="220.50" stroke="#1b4b78" stroke-width="0.8"/>
<line x1="134.50" y1="224.00" x2="134.50" y2="230.00" stroke="#1b4b78" stroke-width="0.8"/>
<line x1="132.39" y1="224.50" x2="135.99" y2="224.50" stroke="#1b4b78" stroke-width="0.8"/>
<line x1="132.39" y1="230.50" x2="135.99" y2="230.50" stroke="#1b4b78" stroke-width="0.8"/>
<line x1="140.50" y1="229.00" x2="140.50" y2="236.00" stroke="#1b4b78" stroke-width="0.8"/>
<line x1="138.79" y1="229.50" x2="142.39" y2="229.50" stroke="#1b4b78" stroke-width="0.8"/>
<line x1="138.79" y1="236.50" x2="142.39" y2="236.50" stroke="#1b4b78" stroke-width="0.8"/>
<line x1="143.50" y1="244.00" x2="143.50" y2="251.00" stroke="#1b4b78" stroke-width="0.8"/>
<line x1="142.00" y1="244.50" x2="145.60" y2="244.50" stroke="#1b4b78" stroke-width="0.8"/>
<line x1="142.00" y1="251.50" x2="145.60" y2="251.50" stroke="#1b4b78" stroke-width="0.8"/>
<polyline points="44.50,214.50 95.75,215.70 121.38,217.00 134.19,227.00 140.59,232.50 143.80,247.50" fill="none" stroke="#1b4b78" stroke-width="1.3" stroke-linejoin="round"/>
<circle cx="44.50" cy="214.50" r="1.9" fill="#1b4b78"/>
<circle cx="95.75" cy="215.70" r="1.9" fill="#1b4b78"/>
<circle cx="121.38" cy="217.00" r="1.9" fill="#1b4b78"/>
<circle cx="134.19" cy="227.00" r="1.9" fill="#1b4b78"/>
<circle cx="140.59" cy="232.50" r="1.9" fill="#1b4b78"/>
<circle cx="143.80" cy="247.50" r="1.9" fill="#1b4b78"/>
<line x1="197.50" y1="245.00" x2="197.50" y2="251.50" stroke="#b8163f" stroke-width="0.8"/>
<line x1="195.20" y1="245.50" x2="198.80" y2="245.50" stroke="#b8163f" stroke-width="0.8"/>
<line x1="195.20" y1="251.50" x2="198.80" y2="251.50" stroke="#b8163f" stroke-width="0.8"/>
<line x1="248.50" y1="251.50" x2="248.50" y2="257.50" stroke="#b8163f" stroke-width="0.8"/>
<line x1="246.70" y1="251.50" x2="250.30" y2="251.50" stroke="#b8163f" stroke-width="0.8"/>
<line x1="246.70" y1="257.50" x2="250.30" y2="257.50" stroke="#b8163f" stroke-width="0.8"/>
<line x1="274.50" y1="260.00" x2="274.50" y2="266.00" stroke="#b8163f" stroke-width="0.8"/>
<line x1="272.45" y1="260.50" x2="276.05" y2="260.50" stroke="#b8163f" stroke-width="0.8"/>
<line x1="272.45" y1="266.50" x2="276.05" y2="266.50" stroke="#b8163f" stroke-width="0.8"/>
<line x1="287.50" y1="267.00" x2="287.50" y2="272.00" stroke="#b8163f" stroke-width="0.8"/>
<line x1="285.32" y1="267.50" x2="288.93" y2="267.50" stroke="#b8163f" stroke-width="0.8"/>
<line x1="285.32" y1="272.50" x2="288.93" y2="272.50" stroke="#b8163f" stroke-width="0.8"/>
<line x1="293.50" y1="274.00" x2="293.50" y2="278.00" stroke="#b8163f" stroke-width="0.8"/>
<line x1="291.76" y1="274.50" x2="295.36" y2="274.50" stroke="#b8163f" stroke-width="0.8"/>
<line x1="291.76" y1="278.50" x2="295.36" y2="278.50" stroke="#b8163f" stroke-width="0.8"/>
<line x1="296.50" y1="277.00" x2="296.50" y2="280.50" stroke="#b8163f" stroke-width="0.8"/>
<line x1="294.98" y1="277.50" x2="298.58" y2="277.50" stroke="#b8163f" stroke-width="0.8"/>
<line x1="294.98" y1="280.50" x2="298.58" y2="280.50" stroke="#b8163f" stroke-width="0.8"/>
<polyline points="197.00,248.20 248.50,254.50 274.25,263.00 287.12,269.50 293.56,276.20 296.78,279.00" fill="none" stroke="#b8163f" stroke-width="1.3" stroke-linejoin="round" stroke-dasharray="3.2,2.2"/>
<circle cx="197.00" cy="248.20" r="1.9" fill="#b8163f"/>
<circle cx="248.50" cy="254.50" r="1.9" fill="#b8163f"/>
<circle cx="274.25" cy="263.00" r="1.9" fill="#b8163f"/>
<circle cx="287.12" cy="269.50" r="1.9" fill="#b8163f"/>
<circle cx="293.56" cy="276.20" r="1.9" fill="#b8163f"/>
<circle cx="296.78" cy="279.00" r="1.9" fill="#b8163f"/>
<line x1="197.50" y1="239.50" x2="197.50" y2="247.00" stroke="#1b4b78" stroke-width="0.8"/>
<line x1="195.20" y1="239.50" x2="198.80" y2="239.50" stroke="#1b4b78" stroke-width="0.8"/>
<line x1="195.20" y1="247.50" x2="198.80" y2="247.50" stroke="#1b4b78" stroke-width="0.8"/>
<line x1="248.50" y1="250.50" x2="248.50" y2="257.00" stroke="#1b4b78" stroke-width="0.8"/>
<line x1="246.70" y1="250.50" x2="250.30" y2="250.50" stroke="#1b4b78" stroke-width="0.8"/>
<line x1="246.70" y1="257.50" x2="250.30" y2="257.50" stroke="#1b4b78" stroke-width="0.8"/>
<line x1="274.50" y1="256.50" x2="274.50" y2="262.50" stroke="#1b4b78" stroke-width="0.8"/>
<line x1="272.45" y1="256.50" x2="276.05" y2="256.50" stroke="#1b4b78" stroke-width="0.8"/>
<line x1="272.45" y1="262.50" x2="276.05" y2="262.50" stroke="#1b4b78" stroke-width="0.8"/>
<line x1="287.50" y1="265.50" x2="287.50" y2="270.50" stroke="#1b4b78" stroke-width="0.8"/>
<line x1="285.32" y1="265.50" x2="288.93" y2="265.50" stroke="#1b4b78" stroke-width="0.8"/>
<line x1="285.32" y1="270.50" x2="288.93" y2="270.50" stroke="#1b4b78" stroke-width="0.8"/>
<line x1="293.50" y1="272.00" x2="293.50" y2="277.00" stroke="#1b4b78" stroke-width="0.8"/>
<line x1="291.76" y1="272.50" x2="295.36" y2="272.50" stroke="#1b4b78" stroke-width="0.8"/>
<line x1="291.76" y1="277.50" x2="295.36" y2="277.50" stroke="#1b4b78" stroke-width="0.8"/>
<line x1="296.50" y1="276.50" x2="296.50" y2="281.00" stroke="#1b4b78" stroke-width="0.8"/>
<line x1="294.98" y1="276.50" x2="298.58" y2="276.50" stroke="#1b4b78" stroke-width="0.8"/>
<line x1="294.98" y1="281.50" x2="298.58" y2="281.50" stroke="#1b4b78" stroke-width="0.8"/>
<polyline points="197.00,243.20 248.50,253.70 274.25,259.50 287.12,268.00 293.56,274.50 296.78,278.70" fill="none" stroke="#1b4b78" stroke-width="1.3" stroke-linejoin="round" stroke-dasharray="3.2,2.2"/>
<polygon points="197.00,245.60 194.81,241.45 199.19,241.45" fill="#1b4b78"/>
<polygon points="248.50,256.10 246.31,251.95 250.69,251.95" fill="#1b4b78"/>
<polygon points="274.25,261.90 272.06,257.75 276.44,257.75" fill="#1b4b78"/>
<polygon points="287.12,270.40 284.94,266.25 289.31,266.25" fill="#1b4b78"/>
<polygon points="293.56,276.90 291.38,272.75 295.75,272.75" fill="#1b4b78"/>
<polygon points="296.78,281.10 294.60,276.95 298.97,276.95" fill="#1b4b78"/>
<line x1="197.50" y1="218.50" x2="197.50" y2="224.00" stroke="#b8163f" stroke-width="0.8"/>
<line x1="195.20" y1="218.50" x2="198.80" y2="218.50" stroke="#b8163f" stroke-width="0.8"/>
<line x1="195.20" y1="224.50" x2="198.80" y2="224.50" stroke="#b8163f" stroke-width="0.8"/>
<line x1="248.50" y1="214.50" x2="248.50" y2="219.50" stroke="#b8163f" stroke-width="0.8"/>
<line x1="246.70" y1="214.50" x2="250.30" y2="214.50" stroke="#b8163f" stroke-width="0.8"/>
<line x1="246.70" y1="219.50" x2="250.30" y2="219.50" stroke="#b8163f" stroke-width="0.8"/>
<line x1="274.50" y1="223.00" x2="274.50" y2="229.50" stroke="#b8163f" stroke-width="0.8"/>
<line x1="272.45" y1="223.50" x2="276.05" y2="223.50" stroke="#b8163f" stroke-width="0.8"/>
<line x1="272.45" y1="229.50" x2="276.05" y2="229.50" stroke="#b8163f" stroke-width="0.8"/>
<line x1="287.50" y1="225.50" x2="287.50" y2="232.00" stroke="#b8163f" stroke-width="0.8"/>
<line x1="285.32" y1="225.50" x2="288.93" y2="225.50" stroke="#b8163f" stroke-width="0.8"/>
<line x1="285.32" y1="232.50" x2="288.93" y2="232.50" stroke="#b8163f" stroke-width="0.8"/>
<line x1="293.50" y1="236.50" x2="293.50" y2="243.50" stroke="#b8163f" stroke-width="0.8"/>
<line x1="291.76" y1="236.50" x2="295.36" y2="236.50" stroke="#b8163f" stroke-width="0.8"/>
<line x1="291.76" y1="243.50" x2="295.36" y2="243.50" stroke="#b8163f" stroke-width="0.8"/>
<line x1="296.50" y1="250.00" x2="296.50" y2="256.00" stroke="#b8163f" stroke-width="0.8"/>
<line x1="294.98" y1="250.50" x2="298.58" y2="250.50" stroke="#b8163f" stroke-width="0.8"/>
<line x1="294.98" y1="256.50" x2="298.58" y2="256.50" stroke="#b8163f" stroke-width="0.8"/>
<polyline points="197.00,221.20 248.50,217.00 274.25,226.20 287.12,228.70 293.56,240.00 296.78,253.00" fill="none" stroke="#b8163f" stroke-width="1.3" stroke-linejoin="round"/>
<polygon points="197.00,218.80 194.81,222.95 199.19,222.95" fill="#b8163f"/>
<polygon points="248.50,214.60 246.31,218.75 250.69,218.75" fill="#b8163f"/>
<polygon points="274.25,223.80 272.06,227.95 276.44,227.95" fill="#b8163f"/>
<polygon points="287.12,226.30 284.94,230.45 289.31,230.45" fill="#b8163f"/>
<polygon points="293.56,237.60 291.38,241.75 295.75,241.75" fill="#b8163f"/>
<polygon points="296.78,250.60 294.60,254.75 298.97,254.75" fill="#b8163f"/>
<line x1="197.50" y1="213.50" x2="197.50" y2="219.00" stroke="#1b4b78" stroke-width="0.8"/>
<line x1="195.20" y1="213.50" x2="198.80" y2="213.50" stroke="#1b4b78" stroke-width="0.8"/>
<line x1="195.20" y1="219.50" x2="198.80" y2="219.50" stroke="#1b4b78" stroke-width="0.8"/>
<line x1="248.50" y1="214.50" x2="248.50" y2="219.50" stroke="#1b4b78" stroke-width="0.8"/>
<line x1="246.70" y1="214.50" x2="250.30" y2="214.50" stroke="#1b4b78" stroke-width="0.8"/>
<line x1="246.70" y1="219.50" x2="250.30" y2="219.50" stroke="#1b4b78" stroke-width="0.8"/>
<line x1="274.50" y1="213.50" x2="274.50" y2="222.00" stroke="#1b4b78" stroke-width="0.8"/>
<line x1="272.45" y1="213.50" x2="276.05" y2="213.50" stroke="#1b4b78" stroke-width="0.8"/>
<line x1="272.45" y1="222.50" x2="276.05" y2="222.50" stroke="#1b4b78" stroke-width="0.8"/>
<line x1="287.50" y1="224.00" x2="287.50" y2="232.00" stroke="#1b4b78" stroke-width="0.8"/>
<line x1="285.32" y1="224.50" x2="288.93" y2="224.50" stroke="#1b4b78" stroke-width="0.8"/>
<line x1="285.32" y1="232.50" x2="288.93" y2="232.50" stroke="#1b4b78" stroke-width="0.8"/>
<line x1="293.50" y1="230.00" x2="293.50" y2="240.00" stroke="#1b4b78" stroke-width="0.8"/>
<line x1="291.76" y1="230.50" x2="295.36" y2="230.50" stroke="#1b4b78" stroke-width="0.8"/>
<line x1="291.76" y1="240.50" x2="295.36" y2="240.50" stroke="#1b4b78" stroke-width="0.8"/>
<line x1="296.50" y1="244.00" x2="296.50" y2="252.00" stroke="#1b4b78" stroke-width="0.8"/>
<line x1="294.98" y1="244.50" x2="298.58" y2="244.50" stroke="#1b4b78" stroke-width="0.8"/>
<line x1="294.98" y1="252.50" x2="298.58" y2="252.50" stroke="#1b4b78" stroke-width="0.8"/>
<polyline points="197.00,216.20 248.50,217.00 274.25,218.00 287.12,228.00 293.56,235.00 296.78,248.00" fill="none" stroke="#1b4b78" stroke-width="1.3" stroke-linejoin="round"/>
<circle cx="197.00" cy="216.20" r="1.9" fill="#1b4b78"/>
<circle cx="248.50" cy="217.00" r="1.9" fill="#1b4b78"/>
<circle cx="274.25" cy="218.00" r="1.9" fill="#1b4b78"/>
<circle cx="287.12" cy="228.00" r="1.9" fill="#1b4b78"/>
<circle cx="293.56" cy="235.00" r="1.9" fill="#1b4b78"/>
<circle cx="296.78" cy="248.00" r="1.9" fill="#1b4b78"/>
<line x1="350.50" y1="262.50" x2="350.50" y2="269.00" stroke="#b8163f" stroke-width="0.8"/>
<line x1="348.20" y1="262.50" x2="351.80" y2="262.50" stroke="#b8163f" stroke-width="0.8"/>
<line x1="348.20" y1="269.50" x2="351.80" y2="269.50" stroke="#b8163f" stroke-width="0.8"/>
<line x1="401.50" y1="265.50" x2="401.50" y2="269.50" stroke="#b8163f" stroke-width="0.8"/>
<line x1="399.85" y1="265.50" x2="403.45" y2="265.50" stroke="#b8163f" stroke-width="0.8"/>
<line x1="399.85" y1="269.50" x2="403.45" y2="269.50" stroke="#b8163f" stroke-width="0.8"/>
<line x1="427.50" y1="271.00" x2="427.50" y2="275.00" stroke="#b8163f" stroke-width="0.8"/>
<line x1="425.68" y1="271.50" x2="429.28" y2="271.50" stroke="#b8163f" stroke-width="0.8"/>
<line x1="425.68" y1="275.50" x2="429.28" y2="275.50" stroke="#b8163f" stroke-width="0.8"/>
<line x1="440.50" y1="272.50" x2="440.50" y2="276.50" stroke="#b8163f" stroke-width="0.8"/>
<line x1="438.59" y1="272.50" x2="442.19" y2="272.50" stroke="#b8163f" stroke-width="0.8"/>
<line x1="438.59" y1="276.50" x2="442.19" y2="276.50" stroke="#b8163f" stroke-width="0.8"/>
<line x1="446.50" y1="277.00" x2="446.50" y2="280.50" stroke="#b8163f" stroke-width="0.8"/>
<line x1="445.04" y1="277.50" x2="448.64" y2="277.50" stroke="#b8163f" stroke-width="0.8"/>
<line x1="445.04" y1="280.50" x2="448.64" y2="280.50" stroke="#b8163f" stroke-width="0.8"/>
<line x1="450.50" y1="278.50" x2="450.50" y2="281.00" stroke="#b8163f" stroke-width="0.8"/>
<line x1="448.27" y1="278.50" x2="451.87" y2="278.50" stroke="#b8163f" stroke-width="0.8"/>
<line x1="448.27" y1="281.50" x2="451.87" y2="281.50" stroke="#b8163f" stroke-width="0.8"/>
<polyline points="350.00,265.70 401.65,267.50 427.48,273.00 440.39,274.50 446.84,278.70 450.07,280.00" fill="none" stroke="#b8163f" stroke-width="1.3" stroke-linejoin="round" stroke-dasharray="3.2,2.2"/>
<circle cx="350.00" cy="265.70" r="1.9" fill="#b8163f"/>
<circle cx="401.65" cy="267.50" r="1.9" fill="#b8163f"/>
<circle cx="427.48" cy="273.00" r="1.9" fill="#b8163f"/>
<circle cx="440.39" cy="274.50" r="1.9" fill="#b8163f"/>
<circle cx="446.84" cy="278.70" r="1.9" fill="#b8163f"/>
<circle cx="450.07" cy="280.00" r="1.9" fill="#b8163f"/>
<line x1="350.50" y1="239.50" x2="350.50" y2="247.00" stroke="#1b4b78" stroke-width="0.8"/>
<line x1="348.20" y1="239.50" x2="351.80" y2="239.50" stroke="#1b4b78" stroke-width="0.8"/>
<line x1="348.20" y1="247.50" x2="351.80" y2="247.50" stroke="#1b4b78" stroke-width="0.8"/>
<line x1="401.50" y1="250.00" x2="401.50" y2="257.50" stroke="#1b4b78" stroke-width="0.8"/>
<line x1="399.85" y1="250.50" x2="403.45" y2="250.50" stroke="#1b4b78" stroke-width="0.8"/>
<line x1="399.85" y1="257.50" x2="403.45" y2="257.50" stroke="#1b4b78" stroke-width="0.8"/>
<line x1="427.50" y1="257.00" x2="427.50" y2="262.00" stroke="#1b4b78" stroke-width="0.8"/>
<line x1="425.68" y1="257.50" x2="429.28" y2="257.50" stroke="#1b4b78" stroke-width="0.8"/>
<line x1="425.68" y1="262.50" x2="429.28" y2="262.50" stroke="#1b4b78" stroke-width="0.8"/>
<line x1="440.50" y1="265.00" x2="440.50" y2="270.00" stroke="#1b4b78" stroke-width="0.8"/>
<line x1="438.59" y1="265.50" x2="442.19" y2="265.50" stroke="#1b4b78" stroke-width="0.8"/>
<line x1="438.59" y1="270.50" x2="442.19" y2="270.50" stroke="#1b4b78" stroke-width="0.8"/>
<line x1="446.50" y1="271.00" x2="446.50" y2="276.50" stroke="#1b4b78" stroke-width="0.8"/>
<line x1="445.04" y1="271.50" x2="448.64" y2="271.50" stroke="#1b4b78" stroke-width="0.8"/>
<line x1="445.04" y1="276.50" x2="448.64" y2="276.50" stroke="#1b4b78" stroke-width="0.8"/>
<line x1="450.50" y1="276.00" x2="450.50" y2="281.00" stroke="#1b4b78" stroke-width="0.8"/>
<line x1="448.27" y1="276.50" x2="451.87" y2="276.50" stroke="#1b4b78" stroke-width="0.8"/>
<line x1="448.27" y1="281.50" x2="451.87" y2="281.50" stroke="#1b4b78" stroke-width="0.8"/>
<polyline points="350.00,243.20 401.65,253.70 427.48,259.50 440.39,267.50 446.84,273.70 450.07,278.70" fill="none" stroke="#1b4b78" stroke-width="1.3" stroke-linejoin="round" stroke-dasharray="3.2,2.2"/>
<polygon points="350.00,245.60 347.81,241.45 352.19,241.45" fill="#1b4b78"/>
<polygon points="401.65,256.10 399.47,251.95 403.84,251.95" fill="#1b4b78"/>
<polygon points="427.48,261.90 425.29,257.75 429.66,257.75" fill="#1b4b78"/>
<polygon points="440.39,269.90 438.20,265.75 442.57,265.75" fill="#1b4b78"/>
<polygon points="446.84,276.10 444.66,271.95 449.03,271.95" fill="#1b4b78"/>
<polygon points="450.07,281.10 447.89,276.95 452.26,276.95" fill="#1b4b78"/>
<line x1="350.50" y1="219.50" x2="350.50" y2="224.50" stroke="#b8163f" stroke-width="0.8"/>
<line x1="348.20" y1="219.50" x2="351.80" y2="219.50" stroke="#b8163f" stroke-width="0.8"/>
<line x1="348.20" y1="224.50" x2="351.80" y2="224.50" stroke="#b8163f" stroke-width="0.8"/>
<line x1="401.50" y1="213.50" x2="401.50" y2="219.00" stroke="#b8163f" stroke-width="0.8"/>
<line x1="399.85" y1="213.50" x2="403.45" y2="213.50" stroke="#b8163f" stroke-width="0.8"/>
<line x1="399.85" y1="219.50" x2="403.45" y2="219.50" stroke="#b8163f" stroke-width="0.8"/>
<line x1="427.50" y1="221.50" x2="427.50" y2="227.00" stroke="#b8163f" stroke-width="0.8"/>
<line x1="425.68" y1="221.50" x2="429.28" y2="221.50" stroke="#b8163f" stroke-width="0.8"/>
<line x1="425.68" y1="227.50" x2="429.28" y2="227.50" stroke="#b8163f" stroke-width="0.8"/>
<line x1="440.50" y1="225.50" x2="440.50" y2="232.00" stroke="#b8163f" stroke-width="0.8"/>
<line x1="438.59" y1="225.50" x2="442.19" y2="225.50" stroke="#b8163f" stroke-width="0.8"/>
<line x1="438.59" y1="232.50" x2="442.19" y2="232.50" stroke="#b8163f" stroke-width="0.8"/>
<line x1="446.50" y1="238.00" x2="446.50" y2="244.50" stroke="#b8163f" stroke-width="0.8"/>
<line x1="445.04" y1="238.50" x2="448.64" y2="238.50" stroke="#b8163f" stroke-width="0.8"/>
<line x1="445.04" y1="244.50" x2="448.64" y2="244.50" stroke="#b8163f" stroke-width="0.8"/>
<line x1="450.50" y1="245.50" x2="450.50" y2="252.00" stroke="#b8163f" stroke-width="0.8"/>
<line x1="448.27" y1="245.50" x2="451.87" y2="245.50" stroke="#b8163f" stroke-width="0.8"/>
<line x1="448.27" y1="252.50" x2="451.87" y2="252.50" stroke="#b8163f" stroke-width="0.8"/>
<polyline points="350.00,222.00 401.65,216.20 427.48,224.20 440.39,228.70 446.84,241.20 450.07,248.70" fill="none" stroke="#b8163f" stroke-width="1.3" stroke-linejoin="round"/>
<polygon points="350.00,219.60 347.81,223.75 352.19,223.75" fill="#b8163f"/>
<polygon points="401.65,213.80 399.47,217.95 403.84,217.95" fill="#b8163f"/>
<polygon points="427.48,221.80 425.29,225.95 429.66,225.95" fill="#b8163f"/>
<polygon points="440.39,226.30 438.20,230.45 442.57,230.45" fill="#b8163f"/>
<polygon points="446.84,238.80 444.66,242.95 449.03,242.95" fill="#b8163f"/>
<polygon points="450.07,246.30 447.89,250.45 452.26,250.45" fill="#b8163f"/>
<line x1="350.50" y1="212.50" x2="350.50" y2="218.50" stroke="#1b4b78" stroke-width="0.8"/>
<line x1="348.20" y1="212.50" x2="351.80" y2="212.50" stroke="#1b4b78" stroke-width="0.8"/>
<line x1="348.20" y1="218.50" x2="351.80" y2="218.50" stroke="#1b4b78" stroke-width="0.8"/>
<line x1="401.50" y1="215.50" x2="401.50" y2="220.50" stroke="#1b4b78" stroke-width="0.8"/>
<line x1="399.85" y1="215.50" x2="403.45" y2="215.50" stroke="#1b4b78" stroke-width="0.8"/>
<line x1="399.85" y1="220.50" x2="403.45" y2="220.50" stroke="#1b4b78" stroke-width="0.8"/>
<line x1="427.50" y1="213.00" x2="427.50" y2="221.00" stroke="#1b4b78" stroke-width="0.8"/>
<line x1="425.68" y1="213.50" x2="429.28" y2="213.50" stroke="#1b4b78" stroke-width="0.8"/>
<line x1="425.68" y1="221.50" x2="429.28" y2="221.50" stroke="#1b4b78" stroke-width="0.8"/>
<line x1="440.50" y1="224.00" x2="440.50" y2="231.00" stroke="#1b4b78" stroke-width="0.8"/>
<line x1="438.59" y1="224.50" x2="442.19" y2="224.50" stroke="#1b4b78" stroke-width="0.8"/>
<line x1="438.59" y1="231.50" x2="442.19" y2="231.50" stroke="#1b4b78" stroke-width="0.8"/>
<line x1="446.50" y1="230.00" x2="446.50" y2="240.00" stroke="#1b4b78" stroke-width="0.8"/>
<line x1="445.04" y1="230.50" x2="448.64" y2="230.50" stroke="#1b4b78" stroke-width="0.8"/>
<line x1="445.04" y1="240.50" x2="448.64" y2="240.50" stroke="#1b4b78" stroke-width="0.8"/>
<line x1="450.50" y1="244.00" x2="450.50" y2="251.00" stroke="#1b4b78" stroke-width="0.8"/>
<line x1="448.27" y1="244.50" x2="451.87" y2="244.50" stroke="#1b4b78" stroke-width="0.8"/>
<line x1="448.27" y1="251.50" x2="451.87" y2="251.50" stroke="#1b4b78" stroke-width="0.8"/>
<polyline points="350.00,215.50 401.65,218.00 427.48,217.00 440.39,227.50 446.84,235.00 450.07,247.50" fill="none" stroke="#1b4b78" stroke-width="1.3" stroke-linejoin="round"/>
<circle cx="350.00" cy="215.50" r="1.9" fill="#1b4b78"/>
<circle cx="401.65" cy="218.00" r="1.9" fill="#1b4b78"/>
<circle cx="427.48" cy="217.00" r="1.9" fill="#1b4b78"/>
<circle cx="440.39" cy="227.50" r="1.9" fill="#1b4b78"/>
<circle cx="446.84" cy="235.00" r="1.9" fill="#1b4b78"/>
<circle cx="450.07" cy="247.50" r="1.9" fill="#1b4b78"/>
<polyline points="350.50,235.50 350.50,232.50 450.00,258.80 450.00,262.00" fill="none" stroke="#1a1a1a" stroke-width="0.9" stroke-linejoin="round"/>
<circle cx="402.50" cy="242.75" r="1.1" fill="#1a1a1a"/>
<line x1="460.00" y1="212.50" x2="470.60" y2="212.50" stroke="#1b4b78" stroke-width="1.2"/>
<circle cx="465.60" cy="212.10" r="2.0" fill="#1b4b78"/>
<text x="474.00" y="214.70" font-family="Liberation Sans" font-size="7.25" font-weight="normal" text-anchor="start" fill="#1a1a1a" stroke="#1a1a1a" stroke-width="0.18">Obinutuzumab</text>
<line x1="460.00" y1="221.50" x2="470.60" y2="221.50" stroke="#b8163f" stroke-width="1.2"/>
<polygon points="465.60,218.47 463.30,222.84 467.90,222.84" fill="#b8163f"/>
<text x="474.00" y="223.60" font-family="Liberation Sans" font-size="7.25" font-weight="normal" text-anchor="start" fill="#1a1a1a" stroke="#1a1a1a" stroke-width="0.18">Obin + block</text>
<line x1="460.00" y1="229.50" x2="462.30" y2="229.50" stroke="#1b4b78" stroke-width="1.2"/>
<line x1="468.30" y1="229.50" x2="470.60" y2="229.50" stroke="#1b4b78" stroke-width="1.2"/>
<polygon points="465.60,232.28 463.30,227.91 467.90,227.91" fill="#1b4b78"/>
<text x="474.00" y="232.35" font-family="Liberation Sans" font-size="7.25" font-weight="normal" text-anchor="start" fill="#1a1a1a" stroke="#1a1a1a" stroke-width="0.18">No antibody</text>
<line x1="460.00" y1="238.50" x2="462.30" y2="238.50" stroke="#b8163f" stroke-width="1.2"/>
<line x1="468.30" y1="238.50" x2="470.60" y2="238.50" stroke="#b8163f" stroke-width="1.2"/>
<circle cx="465.60" cy="238.10" r="2.0" fill="#b8163f"/>
<text x="474.00" y="240.70" font-family="Liberation Sans" font-size="7.25" font-weight="normal" text-anchor="start" fill="#1a1a1a" stroke="#1a1a1a" stroke-width="0.18">NoAb + block</text>
<text x="97.40" y="333.80" font-family="Liberation Sans" font-size="10" font-weight="bold" text-anchor="start" fill="#1a1a1a" stroke="#1a1a1a" stroke-width="0.5">D</text>
<line x1="131.50" y1="348.80" x2="131.50" y2="425.00" stroke="#1a1a1a" stroke-width="1.3"/>
<line x1="130.70" y1="424.50" x2="244.20" y2="424.50" stroke="#1a1a1a" stroke-width="1.3"/>
<line x1="128.00" y1="424.50" x2="131.20" y2="424.50" stroke="#1a1a1a" stroke-width="0.9"/>
<text x="125.90" y="427.10" font-family="Liberation Sans" font-size="7.4" font-weight="normal" text-anchor="end" fill="#1a1a1a" stroke="#1a1a1a" stroke-width="0.18">0.0</text>
<line x1="128.00" y1="400.50" x2="131.20" y2="400.50" stroke="#1a1a1a" stroke-width="0.9"/>
<text x="125.90" y="403.30" font-family="Liberation Sans" font-size="7.4" font-weight="normal" text-anchor="end" fill="#1a1a1a" stroke="#1a1a1a" stroke-width="0.18">0.5</text>
<line x1="128.00" y1="376.50" x2="131.20" y2="376.50" stroke="#1a1a1a" stroke-width="0.9"/>
<text x="125.90" y="379.50" font-family="Liberation Sans" font-size="7.4" font-weight="normal" text-anchor="end" fill="#1a1a1a" stroke="#1a1a1a" stroke-width="0.18">1.0</text>
<line x1="128.00" y1="353.50" x2="131.20" y2="353.50" stroke="#1a1a1a" stroke-width="0.9"/>
<text x="125.90" y="355.70" font-family="Liberation Sans" font-size="7.4" font-weight="normal" text-anchor="end" fill="#1a1a1a" stroke="#1a1a1a" stroke-width="0.18">1.5</text>
<line x1="149.50" y1="424.50" x2="149.50" y2="427.40" stroke="#1a1a1a" stroke-width="0.9"/>
<text x="153.30" y="434.80" font-family="Liberation Sans" font-size="7.6" font-weight="normal" text-anchor="end" fill="#1a1a1a" stroke="#1a1a1a" stroke-width="0.18" transform="rotate(-45 153.30 434.80)">Untreated</text>
<line x1="175.50" y1="424.50" x2="175.50" y2="427.40" stroke="#1a1a1a" stroke-width="0.9"/>
<text x="179.90" y="434.80" font-family="Liberation Sans" font-size="7.6" font-weight="normal" text-anchor="end" fill="#1a1a1a" stroke="#1a1a1a" stroke-width="0.18" transform="rotate(-45 179.90 434.80)">FasL</text>
<line x1="201.50" y1="424.50" x2="201.50" y2="427.40" stroke="#1a1a1a" stroke-width="0.9"/>
<text x="205.50" y="434.80" font-family="Liberation Sans" font-size="7.6" font-weight="normal" text-anchor="end" fill="#1a1a1a" stroke="#1a1a1a" stroke-width="0.18" transform="rotate(-45 205.50 434.80)">TNFα</text>
<line x1="227.50" y1="424.50" x2="227.50" y2="427.40" stroke="#1a1a1a" stroke-width="0.9"/>
<text x="231.50" y="434.80" font-family="Liberation Sans" font-size="7.6" font-weight="normal" text-anchor="end" fill="#1a1a1a" stroke="#1a1a1a" stroke-width="0.18" transform="rotate(-45 231.50 434.80)">TRAIL</text>
<text x="190.40" y="334.00" font-family="Liberation Sans" font-size="9.1" font-weight="normal" text-anchor="middle" fill="#1a1a1a" stroke="#1a1a1a" stroke-width="0.18">No antibody</text>
<text x="109.10" y="387.50" font-family="Liberation Sans" font-size="10.0" font-weight="bold" text-anchor="middle" fill="#1a1a1a" transform="rotate(-90 109.10 387.50)" textLength="81.3" lengthAdjust="spacingAndGlyphs">Live CLL count (normalized)</text>
<line x1="308.50" y1="348.80" x2="308.50" y2="425.00" stroke="#1a1a1a" stroke-width="1.3"/>
<line x1="307.90" y1="424.50" x2="422.50" y2="424.50" stroke="#1a1a1a" stroke-width="1.3"/>
<line x1="305.20" y1="424.50" x2="308.40" y2="424.50" stroke="#1a1a1a" stroke-width="0.9"/>
<text x="304.20" y="427.10" font-family="Liberation Sans" font-size="7.4" font-weight="normal" text-anchor="end" fill="#1a1a1a" stroke="#1a1a1a" stroke-width="0.18">0.0</text>
<line x1="305.20" y1="400.50" x2="308.40" y2="400.50" stroke="#1a1a1a" stroke-width="0.9"/>
<text x="304.20" y="403.30" font-family="Liberation Sans" font-size="7.4" font-weight="normal" text-anchor="end" fill="#1a1a1a" stroke="#1a1a1a" stroke-width="0.18">0.5</text>
<line x1="305.20" y1="376.50" x2="308.40" y2="376.50" stroke="#1a1a1a" stroke-width="0.9"/>
<text x="304.20" y="379.50" font-family="Liberation Sans" font-size="7.4" font-weight="normal" text-anchor="end" fill="#1a1a1a" stroke="#1a1a1a" stroke-width="0.18">1.0</text>
<line x1="305.20" y1="353.50" x2="308.40" y2="353.50" stroke="#1a1a1a" stroke-width="0.9"/>
<text x="304.20" y="355.70" font-family="Liberation Sans" font-size="7.4" font-weight="normal" text-anchor="end" fill="#1a1a1a" stroke="#1a1a1a" stroke-width="0.18">1.5</text>
<line x1="326.50" y1="424.50" x2="326.50" y2="427.40" stroke="#1a1a1a" stroke-width="0.9"/>
<text x="330.80" y="434.80" font-family="Liberation Sans" font-size="7.6" font-weight="normal" text-anchor="end" fill="#1a1a1a" stroke="#1a1a1a" stroke-width="0.18" transform="rotate(-45 330.80 434.80)">Untreated</text>
<line x1="352.50" y1="424.50" x2="352.50" y2="427.40" stroke="#1a1a1a" stroke-width="0.9"/>
<text x="356.80" y="434.80" font-family="Liberation Sans" font-size="7.6" font-weight="normal" text-anchor="end" fill="#1a1a1a" stroke="#1a1a1a" stroke-width="0.18" transform="rotate(-45 356.80 434.80)">FasL</text>
<line x1="378.50" y1="424.50" x2="378.50" y2="427.40" stroke="#1a1a1a" stroke-width="0.9"/>
<text x="383.10" y="434.80" font-family="Liberation Sans" font-size="7.6" font-weight="normal" text-anchor="end" fill="#1a1a1a" stroke="#1a1a1a" stroke-width="0.18" transform="rotate(-45 383.10 434.80)">TNFα</text>
<line x1="405.50" y1="424.50" x2="405.50" y2="427.40" stroke="#1a1a1a" stroke-width="0.9"/>
<text x="409.30" y="434.80" font-family="Liberation Sans" font-size="7.6" font-weight="normal" text-anchor="end" fill="#1a1a1a" stroke="#1a1a1a" stroke-width="0.18" transform="rotate(-45 409.30 434.80)">TRAIL</text>
<text x="365.60" y="334.00" font-family="Liberation Sans" font-size="9.1" font-weight="normal" text-anchor="middle" fill="#1a1a1a" stroke="#1a1a1a" stroke-width="0.18">Obinutuzumab</text>
<text x="286.30" y="387.50" font-family="Liberation Sans" font-size="10.0" font-weight="bold" text-anchor="middle" fill="#1a1a1a" transform="rotate(-90 286.30 387.50)" textLength="81.3" lengthAdjust="spacingAndGlyphs">Live CLL count (normalized)</text>
<polyline points="148.50,347.60 148.50,344.50 227.50,344.50 227.50,347.60" fill="none" stroke="#1a1a1a" stroke-width="1.1" stroke-linejoin="round"/>
<polyline points="148.50,354.50 148.50,351.50 201.50,351.50 201.50,354.50" fill="none" stroke="#1a1a1a" stroke-width="1.1" stroke-linejoin="round"/>
<circle cx="175.00" cy="347.40" r="1.1" fill="#1a1a1a"/>
<circle cx="188.20" cy="339.90" r="1.1" fill="#1a1a1a"/>
<line x1="141.50" y1="377.50" x2="155.50" y2="377.50" stroke="#b8163f" stroke-width="1.2"/>
<circle cx="141.50" cy="377.00" r="1.9" fill="#b8163f"/>
<circle cx="145.00" cy="377.00" r="1.9" fill="#b8163f"/>
<circle cx="148.50" cy="377.00" r="1.9" fill="#b8163f"/>
<circle cx="152.00" cy="377.00" r="1.9" fill="#b8163f"/>
<circle cx="155.50" cy="377.00" r="1.9" fill="#b8163f"/>
<circle cx="175.40" cy="361.80" r="1.9" fill="#b8163f"/>
<circle cx="172.40" cy="372.30" r="1.9" fill="#b8163f"/>
<circle cx="178.40" cy="371.30" r="1.9" fill="#b8163f"/>
<circle cx="178.00" cy="374.70" r="1.9" fill="#b8163f"/>
<circle cx="175.40" cy="379.00" r="1.9" fill="#b8163f"/>
<line x1="167.20" y1="372.50" x2="183.80" y2="372.50" stroke="#1a1a1a" stroke-width="1.3"/>
<circle cx="201.70" cy="364.80" r="1.9" fill="#b8163f"/>
<circle cx="198.60" cy="369.70" r="1.9" fill="#b8163f"/>
<circle cx="204.70" cy="369.70" r="1.9" fill="#b8163f"/>
<circle cx="198.60" cy="376.00" r="1.9" fill="#b8163f"/>
<circle cx="204.70" cy="374.30" r="1.9" fill="#b8163f"/>
<line x1="193.50" y1="369.50" x2="210.10" y2="369.50" stroke="#1a1a1a" stroke-width="1.3"/>
<circle cx="227.90" cy="352.50" r="1.9" fill="#b8163f"/>
<circle cx="227.90" cy="362.20" r="1.9" fill="#b8163f"/>
<circle cx="223.90" cy="366.30" r="1.9" fill="#b8163f"/>
<circle cx="231.00" cy="369.30" r="1.9" fill="#b8163f"/>
<circle cx="224.90" cy="372.30" r="1.9" fill="#b8163f"/>
<line x1="219.60" y1="366.50" x2="236.20" y2="366.50" stroke="#1a1a1a" stroke-width="1.3"/>
<line x1="319.20" y1="376.50" x2="333.80" y2="376.50" stroke="#b8163f" stroke-width="1.2"/>
<circle cx="319.20" cy="376.80" r="1.9" fill="#b8163f"/>
<circle cx="324.10" cy="376.80" r="1.9" fill="#b8163f"/>
<circle cx="328.90" cy="376.80" r="1.9" fill="#b8163f"/>
<circle cx="333.80" cy="376.80" r="1.9" fill="#b8163f"/>
<circle cx="352.70" cy="367.10" r="1.9" fill="#b8163f"/>
<circle cx="352.70" cy="371.70" r="1.9" fill="#b8163f"/>
<circle cx="352.70" cy="374.30" r="1.9" fill="#b8163f"/>
<circle cx="352.70" cy="381.30" r="1.9" fill="#b8163f"/>
<line x1="344.30" y1="372.50" x2="360.90" y2="372.50" stroke="#1a1a1a" stroke-width="1.3"/>
<circle cx="378.80" cy="348.90" r="1.9" fill="#b8163f"/>
<circle cx="378.80" cy="359.00" r="1.9" fill="#b8163f"/>
<circle cx="378.80" cy="371.30" r="1.9" fill="#b8163f"/>
<circle cx="378.80" cy="373.80" r="1.9" fill="#b8163f"/>
<line x1="370.50" y1="364.50" x2="387.10" y2="364.50" stroke="#1a1a1a" stroke-width="1.3"/>
<circle cx="402.00" cy="359.00" r="1.9" fill="#b8163f"/>
<circle cx="407.70" cy="358.00" r="1.9" fill="#b8163f"/>
<circle cx="405.20" cy="365.80" r="1.9" fill="#b8163f"/>
<circle cx="405.20" cy="376.00" r="1.9" fill="#b8163f"/>
<line x1="396.90" y1="361.50" x2="413.50" y2="361.50" stroke="#1a1a1a" stroke-width="1.3"/>
</svg>
</body></html>
